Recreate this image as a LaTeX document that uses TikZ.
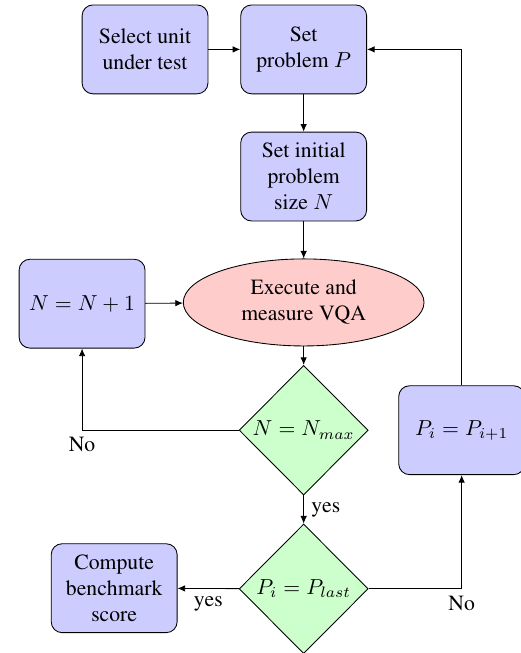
\documentclass[tikz,border=0pt]{standalone}
\usepackage[T1]{fontenc}
\renewcommand{\rmdefault}{ptm}
\usetikzlibrary{positioning,arrows.meta,shapes.geometric}
\definecolor{boxfill}{HTML}{CCCCFF}
\definecolor{runfill}{HTML}{FFCCCC}
\definecolor{testfill}{HTML}{CCFFCC}

\begin{document}
\begin{tikzpicture}[
  every node/.style={font=\rmfamily\normalsize,align=center},
  stage/.style={draw,rounded corners=5pt,fill=boxfill,minimum width=2.04cm,minimum height=1.44cm,inner sep=2pt},
  run/.style={draw,ellipse,fill=runfill,minimum width=3.9cm,minimum height=1.41cm,inner sep=1pt},
  test/.style={draw,diamond,fill=testfill,minimum width=2.09cm,minimum height=2.1cm,inner sep=0pt},
  >={Latex[length=3.5pt,width=3pt]}]
\useasboundingbox (0,0) rectangle (8.44,-10.58);
\node[stage] (sel) at (2.35,-0.80) {Select unit\\under test};
\node[stage] (setp) at (4.92,-0.80) {Set\\problem $P$};
\node[stage] (init) at (4.92,-2.86) {Set initial\\problem\\size $N$};
\node[run] (exec) at (4.92,-4.90) {Execute and\\measure VQA};
\node[stage] (inc) at (1.33,-4.92) {$N=N+1$};
\node[test] (dN) at (4.92,-6.97) {$N=N_{max}$};
\node[test] (dP) at (4.92,-9.54) {$P_i=P_{last}$};
\node[stage] (comp) at (1.85,-9.53) {Compute\\benchmark\\score};
\node[stage] (next) at (7.48,-6.97) {$P_i=P_{i+1}$};
\draw[->] (sel) -- (setp);
\draw[->] (setp) -- (init);
\draw[->] (init) -- (exec);
\draw[->] (inc) -- (exec);
\draw[->] (exec) -- (dN);
\draw[->] (dN.west) -| node[pos=0.5,below]{No} (inc.south);
\draw[->] (dN) -- node[right]{yes} (dP);
\draw[->] (dP) -- node[below]{yes} (comp);
\draw[->] (dP.east) -| node[pos=0.5,below]{No} (next.south);
\draw[->] (next.north) |- (setp.east);
\end{tikzpicture}
\end{document}
